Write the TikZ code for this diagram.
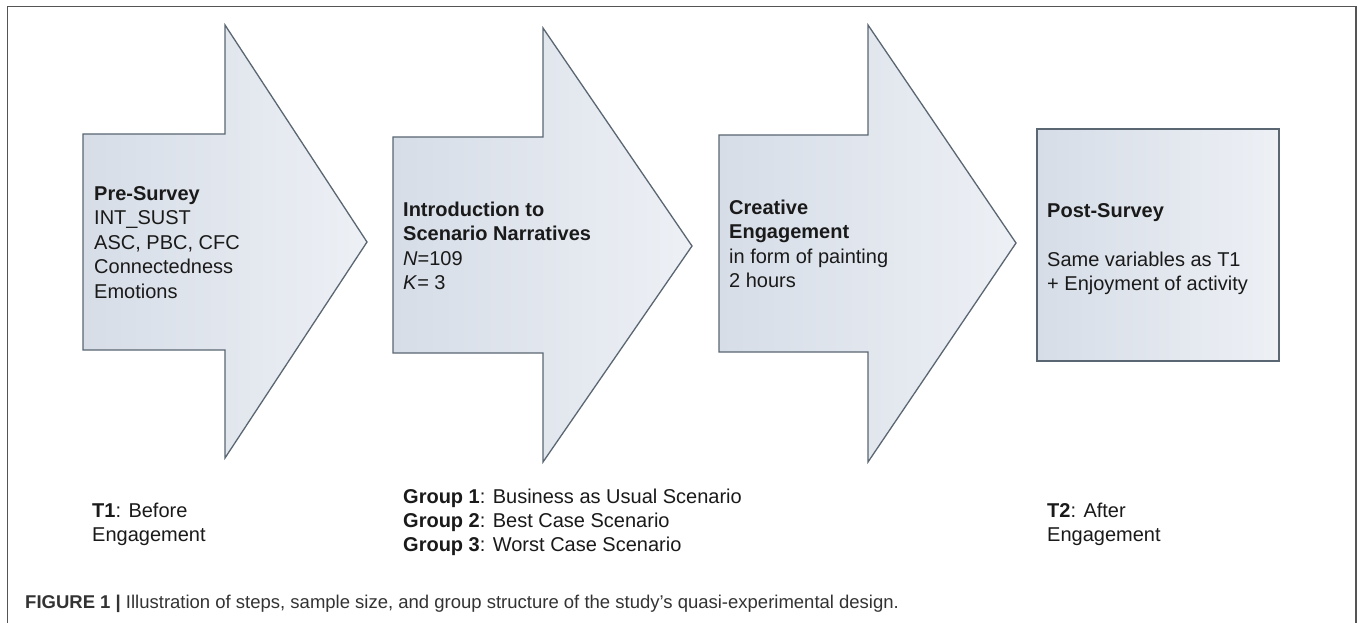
\documentclass[tikz,border=0pt]{standalone}
\usepackage{fontspec}
\setmainfont{Liberation Sans}
\definecolor{edgecol}{HTML}{5A6672}
\definecolor{fillA}{HTML}{D6DDE7}
\definecolor{fillB}{HTML}{EDF0F5}
\definecolor{framecol}{HTML}{555555}
\definecolor{txt}{HTML}{1A1A1A}
\definecolor{captxt}{HTML}{333333}
\begin{document}
\begin{tikzpicture}[x=1pt,y=-1pt,
  stepshape/.style={draw=edgecol, line width=1.3pt, left color=fillA, right color=fillB, line join=miter},
  steptext/.style={anchor=base west, align=left, inner sep=0pt, font=\fontsize{20}{24.5}\selectfont, text=txt},
  labeltext/.style={anchor=base west, align=left, inner sep=0pt, font=\fontsize{20}{24}\selectfont, text=txt},
  captext/.style={anchor=base west, inner sep=0pt, font=\fontsize{18.5}{22}\selectfont, text=captxt}
  ]
\useasboundingbox (0,0) rectangle (1358,623);
\fill[white] (0,0) rectangle (1358,623);
\draw[framecol, line width=1.5pt] (7.5,623) -- (7.5,6.5) -- (1356,6.5) -- (1356,623);

% step shapes
\path[stepshape] (83,134) -- (225,134) -- (225,25) -- (367,242) -- (225,458) -- (225,350) -- (83,350) -- cycle;
\path[stepshape] (393,137) -- (543,137) -- (543,28) -- (692,246) -- (543,462) -- (543,353) -- (393,353) -- cycle;
\path[stepshape] (719,135) -- (868,135) -- (868,25) -- (1016,243) -- (868,462) -- (868,352) -- (719,352) -- cycle;
\path[stepshape] (1037,129) rectangle (1279,361);

% texts in shapes (anchor = baseline of the last line)
\node[steptext] (pre) at (94,298) {\textbf{Pre-Survey}\\INT\_SUST\\ASC, PBC, CFC\\Connectedness\\Emotions};
\node[steptext] (intro) at (403,289.5) {\textbf{Introduction to}\\\textbf{Scenario Narratives}\\\textit{N}=109\\\textit{K}= 3};
\node[steptext] (creative) at (729,287.5) {\textbf{Creative}\\\textbf{Engagement}\\in form of painting\\2 hours};
\node[steptext] (post) at (1047,290.5) {\textbf{Post-Survey}\\[24.5pt]Same variables as T1\\+ Enjoyment of activity};

% labels below
\node[labeltext] (t1) at (92,541) {\textbf{T1}: Before\\Engagement};
\node[labeltext] (groups) at (403,551) {\textbf{Group 1}: Business as Usual Scenario\\\textbf{Group 2}: Best Case Scenario\\\textbf{Group 3}: Worst Case Scenario};
\node[labeltext] (t2) at (1047,541) {\textbf{T2}: After\\Engagement};

% caption
\node[captext] (caption) at (25,608) {\textbf{FIGURE 1 |} Illustration of steps, sample size, and group structure of the study’s quasi-experimental design.};
\end{tikzpicture}
\end{document}
